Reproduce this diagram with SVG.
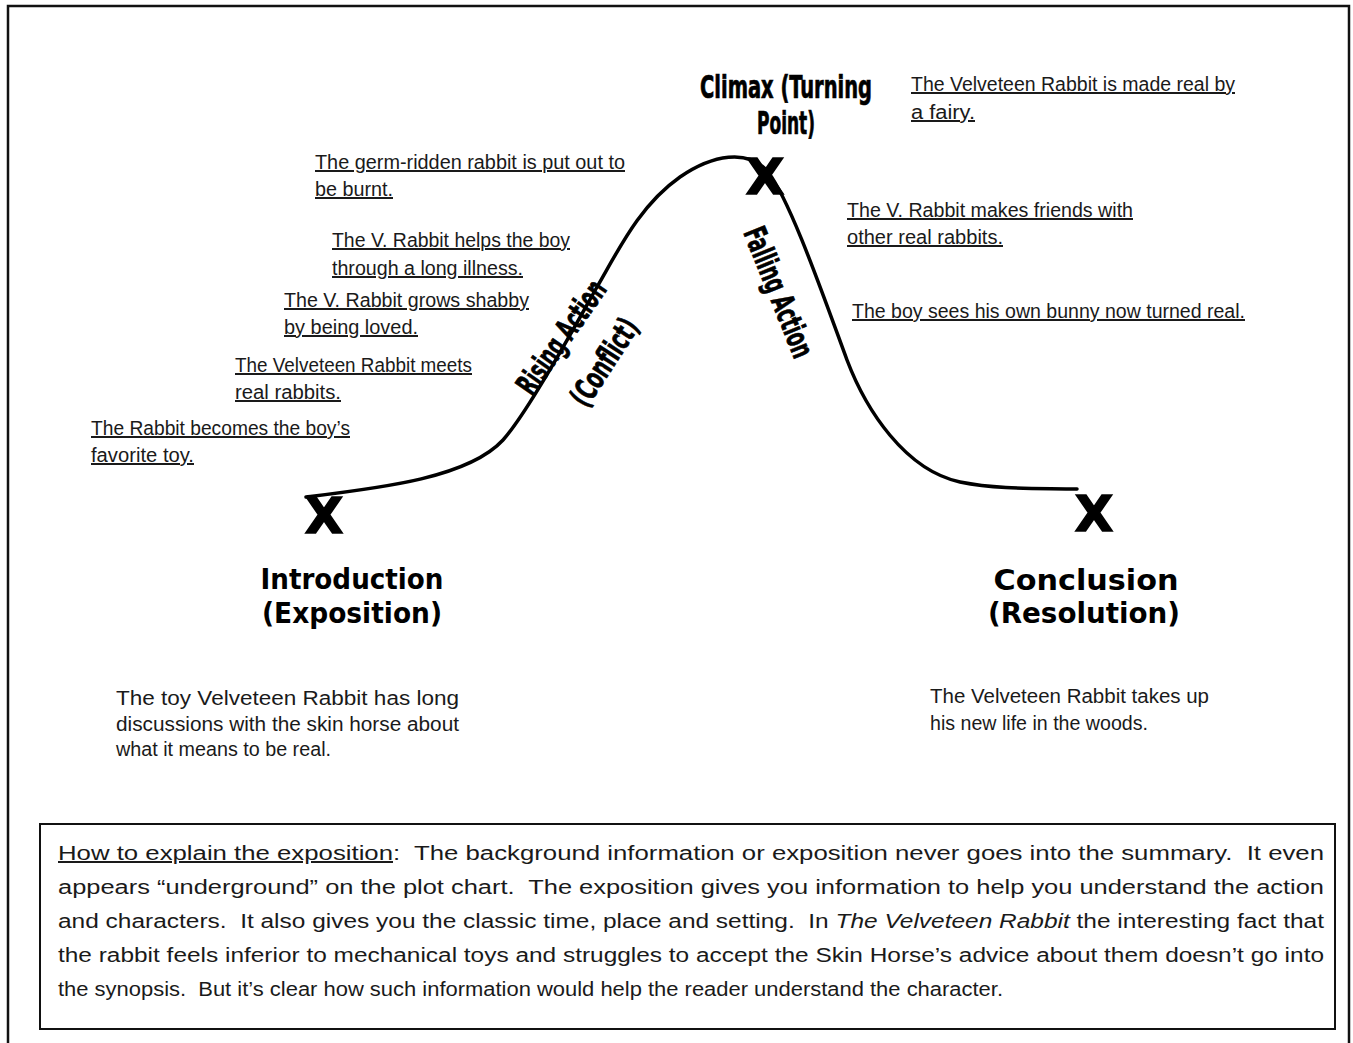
<svg xmlns="http://www.w3.org/2000/svg" width="1353" height="1043" viewBox="0 0 1353 1043">
<style>
.body{font-family:"Liberation Sans","DejaVu Sans",sans-serif;font-size:20px;fill:#1a1a1a;white-space:pre}
.u{text-decoration:underline}
.cond{font-family:"Liberation Sans Narrow","DejaVu Sans Condensed","Liberation Sans",sans-serif;font-weight:bold;fill:#000;stroke:#000;stroke-width:0.7}
.wide{font-family:"DejaVu Sans","Liberation Sans",sans-serif;font-weight:bold;font-size:29px;fill:#000}
.mark{font-family:"DejaVu Sans","Liberation Sans",sans-serif;font-weight:bold;font-size:50px;fill:#000;stroke:#000;stroke-width:1.5}
.frame{fill:none;stroke:#111;stroke-width:2.5}
.box{fill:none;stroke:#111;stroke-width:2}
.curve{fill:none;stroke:#000;stroke-width:3.5;stroke-linecap:round}
</style>
<rect width="1353" height="1043" fill="#fff"/>
<rect class="frame" x="8" y="6" width="1341" height="1060"/>

<g id="connectors">
<path class="curve" d="M306,497 C380,488 468,478 503,440 C528,412 575,326 597,287 C619,249 640,205 680,177 C712,155 748,148 768,172 C790,200 823,295 847,360 C866,410 905,470 960,482 C1000,490 1040,488 1077,489"/>
</g>

<g id="introduction">
<text class="mark" x="324" y="533" text-anchor="middle">X</text>
<text class="wide" x="352" y="589" text-anchor="middle" textLength="183" lengthAdjust="spacingAndGlyphs">Introduction</text>
<text class="wide" x="352" y="623" text-anchor="middle" textLength="180" lengthAdjust="spacingAndGlyphs">(Exposition)</text>
</g>

<g id="climax">
<text class="mark" x="765" y="194" text-anchor="middle">X</text>
<text class="cond" x="700" y="98" font-size="32" textLength="172" lengthAdjust="spacingAndGlyphs">Climax (Turning</text>
<text class="cond" x="786" y="134" font-size="32" text-anchor="middle" textLength="58" lengthAdjust="spacingAndGlyphs">Point)</text>
</g>

<g id="conclusion">
<text class="mark" x="1094" y="531" text-anchor="middle">X</text>
<text class="wide" x="1086" y="590" text-anchor="middle" textLength="185" lengthAdjust="spacingAndGlyphs">Conclusion</text>
<text class="wide" x="1084" y="623" text-anchor="middle" textLength="192" lengthAdjust="spacingAndGlyphs">(Resolution)</text>
</g>

<g id="rising-action">
<text class="cond" font-size="31" text-anchor="middle" transform="translate(561,337) rotate(-55)" y="11" textLength="132" lengthAdjust="spacingAndGlyphs">Rising Action</text>
<text class="cond" font-size="31" text-anchor="middle" transform="translate(604,362) rotate(-57)" y="11" textLength="98" lengthAdjust="spacingAndGlyphs">(Conflict)</text>
</g>

<g id="falling-action">
<text class="cond" font-size="31" text-anchor="middle" transform="translate(779,292) rotate(68)" y="11" textLength="138" lengthAdjust="spacingAndGlyphs">Falling Action</text>
</g>

<g id="event-favorite-toy">
<text class="body u" x="91" y="435" textLength="259" lengthAdjust="spacingAndGlyphs">The Rabbit becomes the boy’s</text>
<text class="body u" x="91" y="462" textLength="103" lengthAdjust="spacingAndGlyphs">favorite toy.</text>
</g>
<g id="event-meets-rabbits">
<text class="body u" x="235" y="372" textLength="237" lengthAdjust="spacingAndGlyphs">The Velveteen Rabbit meets</text>
<text class="body u" x="235" y="399" textLength="106" lengthAdjust="spacingAndGlyphs">real rabbits.</text>
</g>
<g id="event-shabby">
<text class="body u" x="284" y="307" textLength="245" lengthAdjust="spacingAndGlyphs">The V. Rabbit grows shabby</text>
<text class="body u" x="284" y="334" textLength="134" lengthAdjust="spacingAndGlyphs">by being loved.</text>
</g>
<g id="event-illness">
<text class="body u" x="332" y="247" textLength="238" lengthAdjust="spacingAndGlyphs">The V. Rabbit helps the boy</text>
<text class="body u" x="332" y="275" textLength="191" lengthAdjust="spacingAndGlyphs">through a long illness.</text>
</g>
<g id="event-burnt">
<text class="body u" x="315" y="169" textLength="310" lengthAdjust="spacingAndGlyphs">The germ-ridden rabbit is put out to</text>
<text class="body u" x="315" y="196" textLength="78" lengthAdjust="spacingAndGlyphs">be burnt.</text>
</g>
<g id="event-fairy">
<text class="body u" x="911" y="91" textLength="324" lengthAdjust="spacingAndGlyphs">The Velveteen Rabbit is made real by</text>
<text class="body u" x="911" y="119" textLength="64" lengthAdjust="spacingAndGlyphs">a fairy.</text>
</g>
<g id="event-friends">
<text class="body u" x="847" y="217" textLength="286" lengthAdjust="spacingAndGlyphs">The V. Rabbit makes friends with</text>
<text class="body u" x="847" y="244" textLength="156" lengthAdjust="spacingAndGlyphs">other real rabbits.</text>
</g>
<g id="event-boy-sees">
<text class="body u" x="852" y="318" textLength="393" lengthAdjust="spacingAndGlyphs">The boy sees his own bunny now turned real.</text>
</g>

<g id="exposition-summary">
<text class="body" x="116" y="705" textLength="343" lengthAdjust="spacingAndGlyphs">The toy Velveteen Rabbit has long</text>
<text class="body" x="116" y="731" textLength="343" lengthAdjust="spacingAndGlyphs">discussions with the skin horse about</text>
<text class="body" x="116" y="756" textLength="215" lengthAdjust="spacingAndGlyphs">what it means to be real.</text>
</g>

<g id="resolution-summary">
<text class="body" x="930" y="703" textLength="279" lengthAdjust="spacingAndGlyphs">The Velveteen Rabbit takes up</text>
<text class="body" x="930" y="730" textLength="218" lengthAdjust="spacingAndGlyphs">his new life in the woods.</text>
</g>

<g id="explanation-box">
<rect class="box" x="40" y="824" width="1295" height="205"/>
<text class="body" x="58" y="860" font-size="21" textLength="1266" lengthAdjust="spacingAndGlyphs"><tspan class="u">How to explain the exposition</tspan>:  The background information or exposition never goes into the summary.  It even</text>
<text class="body" x="58" y="894" font-size="21" textLength="1266" lengthAdjust="spacingAndGlyphs">appears “underground” on the plot chart.  The exposition gives you information to help you understand the action</text>
<text class="body" x="58" y="928" font-size="21" textLength="1266" lengthAdjust="spacingAndGlyphs">and characters.  It also gives you the classic time, place and setting.  In <tspan font-style="italic">The Velveteen Rabbit</tspan> the interesting fact that</text>
<text class="body" x="58" y="962" font-size="21" textLength="1266" lengthAdjust="spacingAndGlyphs">the rabbit feels inferior to mechanical toys and struggles to accept the Skin Horse’s advice about them doesn’t go into</text>
<text class="body" x="58" y="996" font-size="21" textLength="945" lengthAdjust="spacingAndGlyphs">the synopsis.  But it’s clear how such information would help the reader understand the character.</text>
</g>
</svg>
